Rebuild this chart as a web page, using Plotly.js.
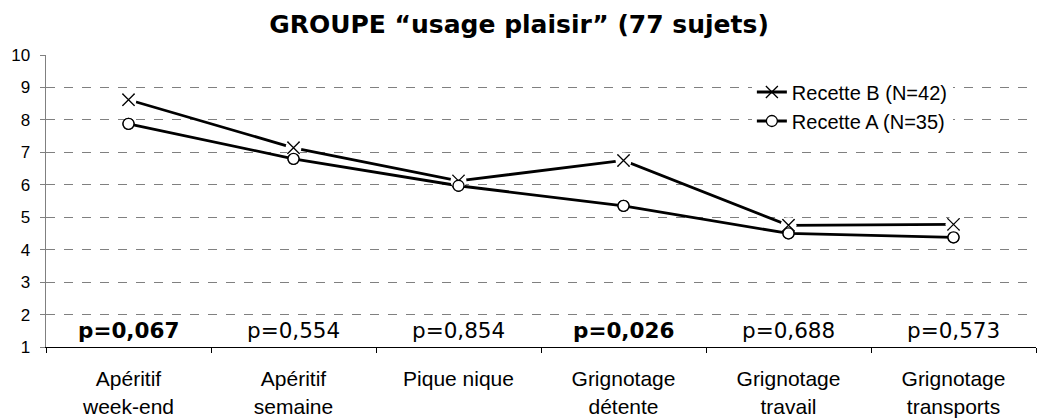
<!DOCTYPE html>
<html><head><meta charset="utf-8">
<script src="https://cdn.plot.ly/plotly-3.0.1.min.js"></script>
<style>body{margin:0;background:#fff}#c{width:1038px;height:419px}</style>
</head><body><div id="c"></div>
<script>
const categories = ["Apéritif week-end","Apéritif semaine","Pique nique","Grignotage détente","Grignotage travail","Grignotage transports"];
const tickLabels = ["Apéritif<br>week-end","Apéritif<br>semaine","Pique nique","Grignotage<br>détente","Grignotage<br>travail","Grignotage<br>transports"];
const recetteB = [8.62, 7.14, 6.12, 6.75, 4.75, 4.78];
const recetteA = [7.88, 6.80, 5.97, 5.35, 4.50, 4.38];
const pValues = ["p=0,067","p=0,554","p=0,854","p=0,026","p=0,688","p=0,573"];
const pBold = [true,false,false,true,false,false];
const pY = 1.5;

const markB = {symbol: "x-thin-open", size: 12, color: "#000", line: {color: "#000", width: 1.3}};
const markA = {symbol: "circle", size: 11, color: "#fff", line: {color: "#000", width: 1.3}};
const traces = [
  {x: categories, y: recetteB, name: "Recette B (N=42)", type: "scatter", mode: "lines+markers",
   line: {color: "#000", width: 2.8}, marker: markB},
  {x: categories, y: recetteA, name: "Recette A (N=35)", type: "scatter", mode: "lines+markers",
   line: {color: "#000", width: 2.8}, marker: markA},
  {x: categories, y: recetteB, type: "scatter", mode: "markers", showlegend: false, hoverinfo: "skip",
   marker: {symbol: "circle", size: 16, color: "#fff", line: {width: 0}}},
  {x: categories, y: recetteB, type: "scatter", mode: "markers", showlegend: false, marker: markB},
  {x: categories, y: recetteA, type: "scatter", mode: "markers", showlegend: false, marker: markA}
];

const annotations = pValues.map((t, i) => ({
  x: categories[i], y: pY, xref: "x", yref: "y", showarrow: false,
  text: pBold[i] ? "<b>" + t + "</b>" : t,
  font: {family: "DejaVu Sans", size: 21.5, color: "#000"}
}));

const layout = {
  width: 1038, height: 419,
  margin: {l: 46, r: 2, t: 55, b: 72},
  paper_bgcolor: "#fff", plot_bgcolor: "#fff",
  title: {text: "<b>GROUPE “usage plaisir” (77 sujets)</b>", font: {family: "DejaVu Sans", size: 25, color: "#000"},
    x: 0.5, xanchor: "center", xref: "container", yref: "container", y: 0.943, yanchor: "middle"},
  showlegend: true,
  legend: {x: 0.713, y: 0.94, xanchor: "left", yanchor: "top", bgcolor: "#fff", borderwidth: 0,
    font: {family: "Liberation Sans", size: 20, color: "#000"}, tracegroupgap: 0, itemwidth: 30},
  xaxis: {type: "category", categoryorder: "array", categoryarray: categories, tickvals: categories, ticktext: tickLabels,
    range: [-0.5, 5.5], showline: true, linecolor: "#000", linewidth: 1, ticks: "outside", tickson: "boundaries",
    ticklen: 5, tickcolor: "#000", showgrid: false, zeroline: false, ticklabelstandoff: 13,
    tickfont: {family: "Liberation Sans", size: 21, color: "#000"}},
  yaxis: {range: [1, 10], dtick: 1, tick0: 1, showline: true, linecolor: "#808080", linewidth: 1.5,
    ticks: "outside", ticklen: 5, tickcolor: "#808080", showgrid: true, gridcolor: "#808080", gridwidth: 1,
    griddash: "dash", zeroline: false, ticklabelstandoff: 6, tickfont: {family: "Liberation Sans", size: 17, color: "#000"}},
  annotations: annotations
};
Plotly.newPlot("c", traces, layout, {displayModeBar: false, staticPlot: true});
</script></body></html>
